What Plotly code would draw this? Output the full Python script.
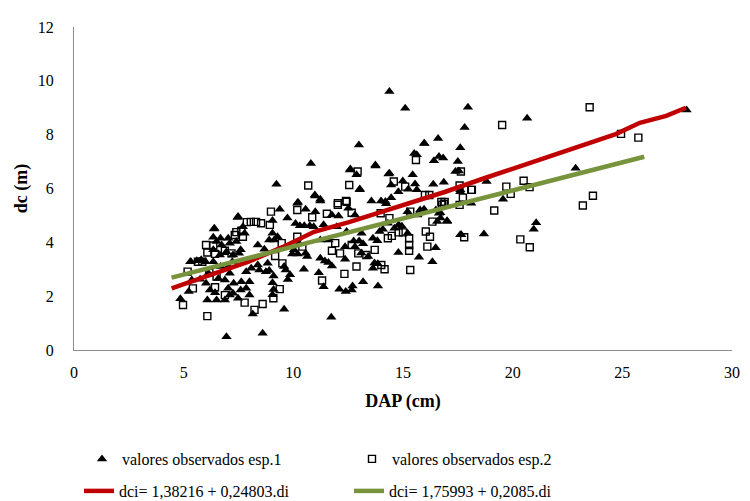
import plotly.graph_objects as go

# Species 1 observations: DAP (cm), crown diameter dc (m)
esp1_dap = [14.38, 15.1, 17.96, 17.81, 16.6, 15.98, 17.61, 13.74, 15.51, 15.63, 16.64, 16.83, 16.41, 17.5,
            17.39, 17.55, 14.34, 15.44, 14.99, 14.46, 14.79, 15.55, 15.63, 16.38, 16.86, 15.24, 17.61, 18.81,
            13.56, 14.0, 14.2, 14.46, 12.99, 10.8, 9.23, 12.6, 12.88, 13.03, 10.98, 11.23, 10.21, 13.75, 14.38,
            7.46, 6.38, 6.35, 6.68, 7.03, 7.7, 7.78, 5.33, 5.6, 5.8, 6.0, 6.35, 6.65, 6.95, 7.25, 7.52, 7.6,
            7.85, 7.1, 6.88, 6.58, 6.02, 6.2, 6.43, 6.08, 6.5, 6.88, 7.25, 7.48, 5.23, 4.85, 6.95, 5.37, 5.75,
            8.0, 8.0, 7.85, 7.03, 7.1, 7.28, 7.6, 8.15, 6.73, 7.1, 7.4, 6.5, 6.35, 7.22, 7.03, 6.68, 6.13, 7.63,
            8.08, 10.18, 11.23, 10.56, 11.0, 9.38, 9.73, 10.1, 10.3, 10.5, 10.75, 12.06, 11.76, 12.51, 12.81,
            11.38, 10.93, 11.98, 9.05, 8.9, 9.13, 8.38, 8.68, 9.95, 10.2, 10.56, 8.83, 8.38, 8.45, 8.75, 8.9,
            9.58, 9.65, 9.85, 9.75, 9.1, 9.05, 9.1, 9.05, 10.48, 10.63, 11.23, 11.44, 11.6, 11.76, 12.36, 11.16,
            12.75, 13.0, 13.18, 12.36, 12.81, 13.1, 13.18, 12.7, 12.39, 12.1, 9.58, 11.73, 8.6, 9.05, 9.28,
            10.26, 10.03, 11.23, 11.61, 12.43, 13.11, 13.41, 11.38, 12.66, 14.23, 15.21, 15.78, 16.5, 16.7,
            16.71, 17.01, 13.93, 14.08, 14.8, 14.95, 15.21, 13.63, 13.83, 14.79, 16.49, 15.73, 16.34, 17.61,
            18.69, 13.7, 13.85, 13.63, 13.86, 16.56, 14.31, 14.61, 15.66, 15.96, 20.66, 17.61, 18.11, 19.56,
            22.87, 27.93, 16.64, 17.01, 21.07, 20.96, 17.66, 11.0, 12.58, 13.03, 15.96, 6.4, 7.48, 5.3]
esp1_dc = [9.6, 8.98, 9.02, 8.27, 7.86, 7.67, 7.51, 6.87, 7.3, 7.25, 7.19, 7.13, 7.03, 7.0,
           6.63, 6.65, 6.54, 6.51, 6.28, 6.13, 5.88, 6.17, 5.95, 6.16, 6.23, 5.97, 5.95, 6.26,
           5.54, 5.54, 5.52, 5.66, 7.62, 6.93, 6.16, 6.72, 6.51, 5.95, 5.76, 5.6, 5.49, 6.84, 6.57,
           4.92, 4.5, 4.19, 4.15, 4.15, 4.58, 4.34, 3.28, 3.32, 3.35, 3.28, 3.28, 3.53, 3.65, 3.53, 3.59, 3.72,
           2.91, 2.85, 2.6, 2.66, 2.48, 2.23, 2.13, 1.86, 1.86, 1.86, 2.11, 1.92, 2.17, 1.9, 0.49, 2.6, 2.63,
           2.54, 2.04, 2.29, 2.29, 2.04, 2.48, 2.23, 1.34, 3.9, 3.97, 4.03, 4.03, 3.72, 3.28, 3.1, 3.1, 2.85, 2.54,
           3.04, 5.45, 5.54, 5.23, 5.14, 5.23, 4.9, 4.7, 4.62, 4.62, 4.62, 4.98, 5.02, 5.27, 5.02,
           4.65, 4.58, 4.58, 4.34, 4.09, 4.09, 3.9, 3.74, 3.57, 3.57, 3.59, 3.22, 3.16, 2.97, 2.91, 2.95,
           3.1, 2.97, 2.8, 2.62, 2.75, 2.5, 2.25, 2.05, 3.0, 3.47, 3.41, 3.31, 3.25, 3.12, 3.37, 2.87,
           4.05, 4.05, 3.95, 3.84, 3.84, 3.6, 2.54, 2.38, 2.17, 2.26, 1.51, 1.22, 0.62, 4.81, 4.21,
           3.97, 3.72, 4.09, 4.09, 4.4, 4.34, 3.47, 2.35, 2.23, 5.43, 5.14, 5.2, 5.2, 5.1,
           4.9, 4.77, 4.4, 4.49, 4.65, 4.6, 4.34, 4.15, 4.06, 3.62, 3.8, 3.45, 3.28, 4.28,
           4.31, 3.23, 3.2, 3.04, 2.38, 4.77, 4.71, 4.52, 5.02, 5.23, 8.61, 5.88, 5.45, 5.6,
           6.75, 8.92, 5.08, 4.8, 4.73, 4.49, 4.28, 5.72, 6.69, 5.98, 7.68, 4.52, 4.96, 3.28]

# Species 2 observations
esp2_dap = [15.59, 14.58, 15.1, 17.64, 17.58, 18.14, 17.73, 16.0, 16.2, 16.75, 16.9, 10.68, 12.93, 12.55,
            12.4, 12.03, 6.02, 6.08, 7.4, 7.63, 7.7, 7.88, 6.43, 6.88, 5.65, 5.85, 5.18, 5.42, 4.97, 6.08,
            6.43, 6.88, 7.78, 6.5, 6.17, 8.23, 8.06, 8.3, 8.98, 10.18, 10.86, 11.53, 12.03, 12.43, 12.66,
            8.93, 10.18, 9.47, 10.41, 11.91, 11.76, 12.13, 12.66, 12.96, 13.33, 9.17, 9.5, 12.33, 12.88,
            11.31, 9.38, 9.09, 8.6, 8.53, 13.98, 14.38, 15.33, 16.86, 17.58, 16.34, 14.31, 14.49, 14.8,
            15.0, 15.28, 15.28, 15.28, 16.04, 16.23, 16.11, 17.79, 13.71, 14.01, 14.16, 15.33, 23.51,
            19.52, 18.11, 19.71, 19.91, 20.5, 20.77, 19.16, 24.94, 25.73, 23.2, 23.66, 20.35, 20.78,
            16.78, 6.35, 7.18, 7.33]
esp2_dc = [7.06, 6.26, 6.07, 6.63, 6.11, 5.95, 5.66, 5.76, 5.76, 5.5, 5.5, 6.11, 6.63, 6.13,
           5.54, 5.45, 3.9, 3.62, 4.38, 4.43, 4.21, 4.75, 3.57, 3.69, 3.28, 3.28, 2.91, 2.29, 1.67, 1.26,
           2.33, 2.04, 1.76, 2.73, 2.87, 1.49, 4.76, 4.76, 5.14, 5.2, 4.93, 5.06, 5.39, 5.51, 5.1,
           4.65, 4.21, 3.97, 3.84, 3.97, 3.69, 3.59, 3.9, 3.59, 3.53, 3.49, 3.22, 2.83, 3.1,
           2.58, 2.26, 1.92, 1.71, 4.71, 5.08, 4.9, 5.14, 5.43, 5.39, 4.77, 4.15, 4.24, 4.37,
           4.37, 4.15, 3.9, 3.69, 4.4, 4.21, 3.84, 4.19, 3.72, 3.16, 3.0, 2.97, 9.02,
           8.36, 5.95, 6.07, 5.8, 6.29, 6.05, 5.18, 8.03, 7.89, 5.37, 5.73, 4.11, 3.82,
           5.39, 3.88, 3.59, 4.27]

# Fitted curve for species 1
red_dap = [4.45, 6.0, 7.93, 9.5, 10.95, 12.5, 13.9, 15.4, 16.9, 18.74, 21.0, 22.3, 23.56, 24.7, 25.8, 27.0, 27.9]
red_dc = [2.29, 2.74, 3.27, 3.82, 4.39, 4.74, 5.09, 5.48, 5.87, 6.39, 7.0, 7.35, 7.73, 8.02, 8.44, 8.7, 9.0]

# Regression line for species 2: dci = 1.75993 + 0.2085 * di
green_a, green_b = 1.75993, 0.2085
green_dap = [4.45, 26.0]
green_dc = [green_a + green_b * d for d in green_dap]

x_ticks = [0, 5, 10, 15, 20, 25, 30]
y_ticks = [0, 2, 4, 6, 8, 10, 12]

FONT = "Liberation Serif"
AXIS_COLOR = "#8c8c8c"

fig = go.Figure()
fig.add_trace(go.Scatter(
    x=esp1_dap, y=esp1_dc, mode="markers", name="valores observados esp.1",
    marker=dict(symbol="triangle-up", size=9, color="black", line=dict(width=0)),
    legend="legend"))
fig.add_trace(go.Scatter(
    x=esp2_dap, y=esp2_dc, mode="markers", name="valores observados esp.2",
    marker=dict(symbol="square-open", size=7, color="black", line=dict(width=1.4)),
    legend="legend"))
fig.add_trace(go.Scatter(
    x=red_dap, y=red_dc, mode="lines", name="dci= 1,38216 + 0,24803.di",
    line=dict(color="#C00000", width=4.5), legend="legend2"))
fig.add_trace(go.Scatter(
    x=green_dap, y=green_dc, mode="lines", name="dci= 1,75993 + 0,2085.di",
    line=dict(color="#77933C", width=4.5), legend="legend2"))

legend_common = dict(
    orientation="h", xref="container", yref="container", xanchor="left", yanchor="middle",
    entrywidth=225, entrywidthmode="pixels", bgcolor="rgba(0,0,0,0)",
    font=dict(family=FONT, size=16, color="black"), itemclick=False, itemdoubleclick=False,
)

fig.update_layout(
    width=750, height=501,
    margin=dict(l=74, r=10, t=27, b=151),
    paper_bgcolor="white", plot_bgcolor="white",
    font=dict(family=FONT, size=16, color="black"),
    xaxis=dict(
        range=[0, 30], tickvals=x_ticks, ticktext=[str(v) for v in x_ticks],
        showgrid=False, zeroline=False, showline=True, linecolor=AXIS_COLOR, linewidth=1.3,
        ticks="", ticklabelstandoff=8, tickfont=dict(family=FONT, size=16),
        title=dict(text="<b>DAP (cm)</b>", font=dict(family=FONT, size=18), standoff=14),
    ),
    yaxis=dict(
        range=[0, 12], tickvals=y_ticks, ticktext=[str(v) for v in y_ticks],
        showgrid=False, zeroline=False, showline=True, linecolor=AXIS_COLOR, linewidth=1.3,
        ticks="", ticklabelstandoff=16, tickfont=dict(family=FONT, size=16),
        title=dict(text="<b>dc (m)</b>", font=dict(family=FONT, size=18), standoff=5),
    ),
    legend=dict(x=82 / 750, y=1 - 459 / 501, **legend_common),
    legend2=dict(x=79 / 750, y=1 - 491 / 501, **legend_common),
)

fig.write_html("out.html")
